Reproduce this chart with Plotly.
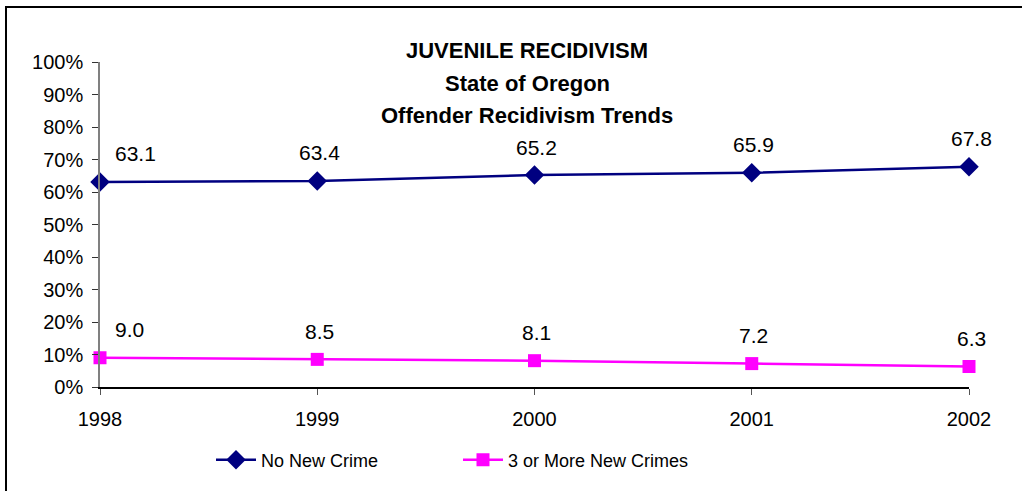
import plotly.graph_objects as go

years = [1998, 1999, 2000, 2001, 2002]
no_new_crime = [63.1, 63.4, 65.2, 65.9, 67.8]
three_or_more = [9.0, 8.5, 8.1, 7.2, 6.3]
title_lines = ["JUVENILE RECIDIVISM", "State of Oregon", "Offender Recidivism Trends"]
series_names = ["No New Crime", "3 or More New Crimes"]

FONT = "Liberation Sans, Arial, sans-serif"
NAVY = "#000080"
MAGENTA = "#FF00FF"

fig = go.Figure()
fig.add_trace(go.Scatter(
    x=years, y=no_new_crime, name=series_names[0], mode="lines+markers",
    line=dict(color=NAVY, width=2.5),
    marker=dict(symbol="diamond", size=15, color=NAVY),
    cliponaxis=False,
))
fig.add_trace(go.Scatter(
    x=years, y=three_or_more, name=series_names[1], mode="lines+markers",
    line=dict(color=MAGENTA, width=2.5),
    marker=dict(symbol="square", size=13, color=MAGENTA),
    cliponaxis=False,
))

annotations = []
for series in (no_new_crime, three_or_more):
    for i, (xv, yv) in enumerate(zip(years, series)):
        first = i == 0
        annotations.append(dict(
            x=xv, y=yv, xref="x", yref="y", text=f"{yv:.1f}", showarrow=False,
            xanchor="left" if first else "center", yanchor="middle",
            xshift=13 if first else 2, yshift=28,
            font=dict(family=FONT, size=21, color="black"),
        ))

title_y = [50, 83, 115]
for txt, py in zip(title_lines, title_y):
    annotations.append(dict(
        x=(527 - 100) / 869, y=(387 - py) / 325, xref="paper", yref="paper",
        text=f"<b>{txt}</b>", showarrow=False, xanchor="center", yanchor="middle",
        font=dict(family=FONT, size=22, color="black"),
    ))

fig.update_layout(
    width=1022, height=491,
    margin=dict(l=100, r=53, t=62, b=104),
    paper_bgcolor="white", plot_bgcolor="white",
    font=dict(family=FONT, color="black"),
    showlegend=True,
    legend=dict(
        orientation="h", x=(211 - 100) / 869, xanchor="left", y=-0.225, yanchor="middle",
        font=dict(family=FONT, size=18, color="black"),
        itemwidth=40, entrywidth=192, entrywidthmode="pixels",
        bgcolor="rgba(0,0,0,0)",
    ),
    xaxis=dict(
        range=[1998, 2002], tickvals=years, ticktext=[str(y) for y in years],
        showgrid=False, zeroline=False, showline=True, linecolor="black", linewidth=1.5,
        ticks="outside", ticklen=6, tickcolor="#555555", tickwidth=1,
        ticklabelstandoff=7,
        tickfont=dict(family=FONT, size=20, color="black"),
    ),
    yaxis=dict(
        range=[0, 100], dtick=10, ticksuffix="%",
        showgrid=False, zeroline=False, showline=True, linecolor="#808080", linewidth=1.5,
        ticks="outside", ticklen=6, tickcolor="#333333", tickwidth=1,
        ticklabelstandoff=5,
        tickfont=dict(family=FONT, size=20, color="black"),
    ),
    annotations=annotations,
    shapes=[dict(
        type="rect", xref="paper", yref="paper",
        x0=(6 - 100) / 869, x1=1.2, y0=-0.5, y1=(387 - 7) / 325,
        line=dict(color="black", width=2), fillcolor="rgba(0,0,0,0)", layer="below",
    )],
)

fig.write_html("out.html", config={"displayModeBar": False},
               post_script="document.body.style.margin='0px';")
